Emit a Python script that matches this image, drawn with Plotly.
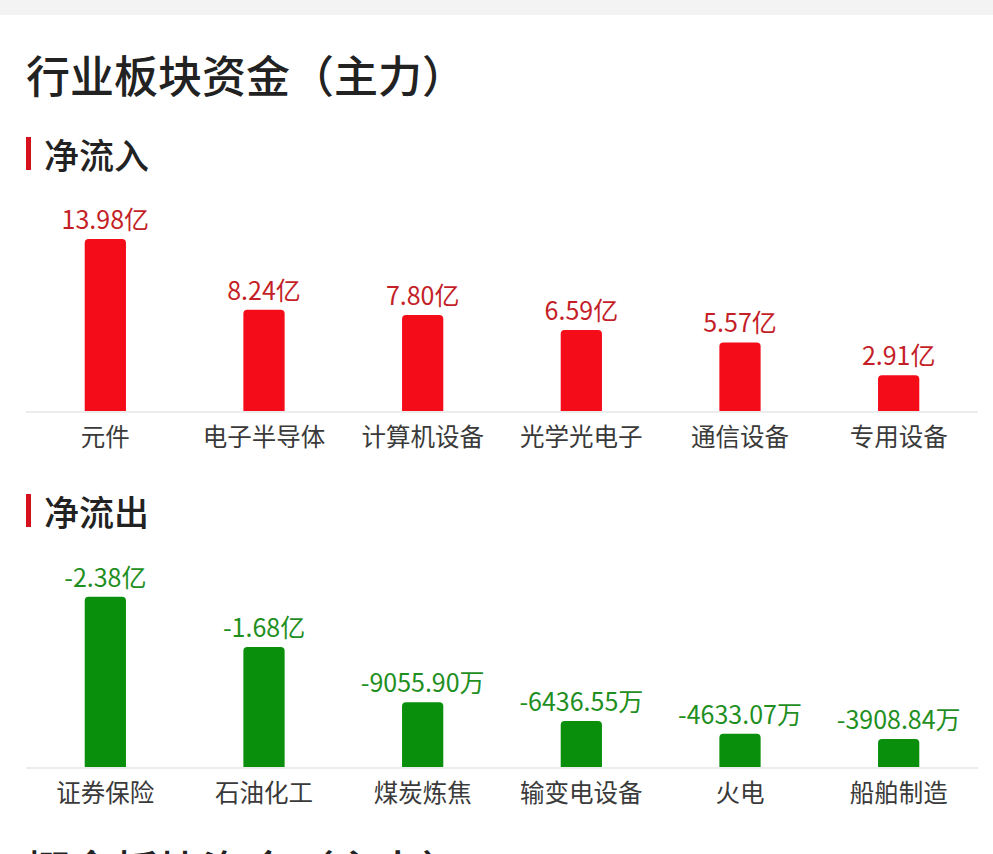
import plotly.graph_objects as go
from plotly.subplots import make_subplots

# ---- data ----
inflow_categories = ["元件", "电子半导体", "计算机设备", "光学光电子", "通信设备", "专用设备"]
inflow_values_yi = [13.98, 8.24, 7.80, 6.59, 5.57, 2.91]          # 亿元

outflow_categories = ["证券保险", "石油化工", "煤炭炼焦", "输变电设备", "火电", "船舶制造"]
outflow_values_wan = [-23800, -16800, -9055.90, -6436.55, -4633.07, -3908.84]  # 万元

title_text = "行业板块资金（主力）"
section_in = "净流入"
section_out = "净流出"
next_section = "概念板块资金（主力）"

# ---- helpers ----
def fmt_wan(v):
    if abs(v) >= 10000:
        return f"{v/10000:.2f}亿"
    return f"{v:.2f}万"

W, H = 993, 854
def py(px):  # pixel (from top) -> paper y
    return (H - px) / H
def px_x(px):
    return px / W

FONT = "Noto Sans CJK SC, Noto Sans, sans-serif"
RED_BAR = "#f40c18"
GREEN_BAR = "#0a8f0c"
RED_TXT = "#c41f28"
GREEN_TXT = "#1f8f1f"

fig = make_subplots(rows=2, cols=1)

fig.add_trace(go.Bar(
    x=inflow_categories, y=inflow_values_yi,
    marker=dict(color=RED_BAR, cornerradius=4, line=dict(width=0)),
    text=[f"{v:.2f}亿" for v in inflow_values_yi],
    textposition="outside", cliponaxis=False, constraintext="none",
    textfont=dict(family=FONT, size=25, color=RED_TXT),
    hoverinfo="skip", showlegend=False,
), row=1, col=1)

fig.add_trace(go.Bar(
    x=outflow_categories, y=[abs(v) / 10000 for v in outflow_values_wan],
    marker=dict(color=GREEN_BAR, cornerradius=4, line=dict(width=0)),
    text=[fmt_wan(v) for v in outflow_values_wan],
    textposition="outside", cliponaxis=False, constraintext="none",
    textfont=dict(family=FONT, size=25, color=GREEN_TXT),
    hoverinfo="skip", showlegend=False,
), row=2, col=1)

xdom = [px_x(26), px_x(978)]
axis_x = dict(domain=xdom, showgrid=False, zeroline=False, showline=True,
              linecolor="#ececec", linewidth=1.5, ticks="", ticklabelstandoff=4,
              tickfont=dict(family=FONT, size=24.5, color="#3a3a3a"),
              fixedrange=True)
fig.update_xaxes(**axis_x)
fig.update_yaxes(visible=False, showgrid=False, zeroline=False, fixedrange=True)

# y scale: chart1 ~12.3 px per 亿, baseline at 411px; chart2 ~71.5 px per 亿, baseline 767px
fig.update_layout(
    yaxis=dict(domain=[py(411), py(200)], range=[0, (411 - 200) / 12.3]),
    yaxis2=dict(domain=[py(767), py(560)], range=[0, (767 - 560) / 71.5]),
)

fig.update_layout(
    width=W, height=H,
    margin=dict(l=0, r=0, t=0, b=0),
    paper_bgcolor="white", plot_bgcolor="white",
    bargap=0.74,
    font=dict(family=FONT),
    shapes=[
        dict(type="rect", xref="paper", yref="paper", x0=0, x1=1,
             y0=py(15), y1=1, fillcolor="#f3f3f3", line=dict(width=0), layer="below"),
        dict(type="rect", xref="paper", yref="paper", x0=px_x(26), x1=px_x(31),
             y0=py(170), y1=py(137), fillcolor="#d4111c", line=dict(width=0)),
        dict(type="rect", xref="paper", yref="paper", x0=px_x(26), x1=px_x(31),
             y0=py(527), y1=py(494), fillcolor="#d4111c", line=dict(width=0)),
    ],
    annotations=[
        dict(text=title_text, xref="paper", yref="paper", x=px_x(24), y=py(74),
             xanchor="left", yanchor="middle", showarrow=False,
             font=dict(family=FONT, size=44, color="#222222", weight=500)),
        dict(text=section_in, xref="paper", yref="paper", x=px_x(42), y=py(154),
             xanchor="left", yanchor="middle", showarrow=False,
             font=dict(family=FONT, size=35, color="#222222", weight=500)),
        dict(text=section_out, xref="paper", yref="paper", x=px_x(42), y=py(510),
             xanchor="left", yanchor="middle", showarrow=False,
             font=dict(family=FONT, size=35, color="#222222", weight=500)),
        dict(text=next_section, xref="paper", yref="paper", x=px_x(24), y=py(869),
             xanchor="left", yanchor="middle", showarrow=False,
             font=dict(family=FONT, size=44, color="#222222", weight=500)),
    ],
)

fig.write_html("out.html")
